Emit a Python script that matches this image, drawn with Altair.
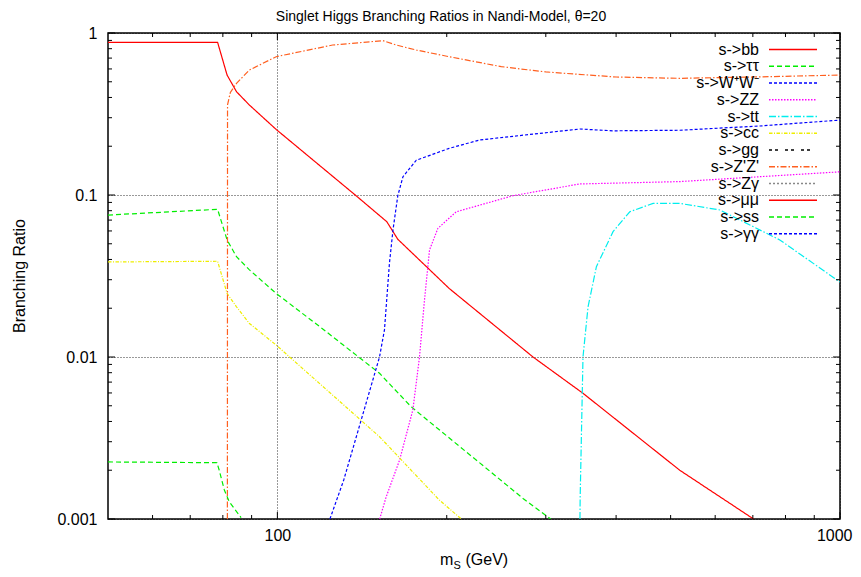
import altair as alt
import pandas as pd

# ---------------- data ----------------
series = ["bb", "tautau", "WW", "ZZ", "tt", "cc", "gg", "ZpZp", "Zgamma", "mumu", "ss", "gammagamma"]
labels = ["s->bb", "s->ττ", "s->W⁺W⁻", "s->ZZ", "s->tt", "s->cc", "s->gg", "s->Z'Z'",
          "s->Zγ", "s->μμ", "s->ss", "s->γγ"]

m_bb = [50, 78.3, 81.4, 84.6, 89.2, 99.5, 138, 156.5, 163.7, 202, 284.7, 349.3, 519, 702]
br_bb = [0.876, 0.876, 0.550, 0.434, 0.359, 0.254, 0.099, 0.0684, 0.0533, 0.0265, 0.010, 0.00597, 0.0020, 0.0010]

m_tautau = [50, 78.3, 81.4, 84.6, 89.2, 99.5, 120.4, 151.9, 172.9, 273.3, 306]
br_tautau = [0.0752, 0.0816, 0.0528, 0.0416, 0.0345, 0.0247, 0.0149, 0.00793, 0.00493, 0.00134, 0.0010]

m_WW = [124, 131.2, 151.9, 155, 158.2, 160.5, 163.7, 167.2, 176.6, 202, 228.8, 344.7, 395, 519, 720, 1000]
br_WW = [0.001, 0.00174, 0.01, 0.0147, 0.0379, 0.0608, 0.099, 0.1297, 0.164, 0.194, 0.2186, 0.2555, 0.249, 0.251, 0.2667, 0.29]

m_ZZ = [152, 156.1, 164.9, 174.1, 178.9, 182.6, 186.4, 192.9, 208, 262.2, 344.7, 519, 1000]
br_ZZ = [0.001, 0.00137, 0.00231, 0.00471, 0.01, 0.0225, 0.0458, 0.0623, 0.0788, 0.099, 0.117, 0.121, 0.139]

m_tt = [345.0, 345.3, 349.3, 356.6, 369, 395, 423, 465.4, 519, 611.7, 781.6, 1000]
br_tt = [0.001, 0.00137, 0.01, 0.0204, 0.0361, 0.0594, 0.0788, 0.0888, 0.0888, 0.0808, 0.0528, 0.029]

m_cc = [50, 78.3, 81.4, 84.6, 89.2, 99.5, 151.9, 194, 212.3]
br_cc = [0.0386, 0.039, 0.0247, 0.0204, 0.0161, 0.01186, 0.00322, 0.00131, 0.001]

m_gg = []
br_gg = []

m_ZpZp = [81.5, 81.55, 82.5, 84.6, 89.2, 99.5, 125.4, 154, 162.6, 176.6, 202, 250, 300, 400, 519, 700, 1000]
br_ZpZp = [0.001, 0.36, 0.43, 0.489, 0.591, 0.714, 0.843, 0.897, 0.843, 0.785, 0.714, 0.62, 0.575, 0.535, 0.525, 0.535, 0.55]

m_Zgamma = []
br_Zgamma = []

m_mumu = []
br_mumu = []

m_ss = [50, 78.1, 78.8, 80.5, 82.1, 86.2]
br_ss = [0.00225, 0.002226, 0.002007, 0.00151, 0.00128, 0.00102]

m_gammagamma = []
br_gammagamma = []

x_major = [100, 1000]
x_minor = [60, 70, 80, 90, 200, 300, 400, 500, 600, 700, 800, 900]
y_major = [0.001, 0.01, 0.1, 1]
y_minor = [0.002, 0.003, 0.004, 0.005, 0.006, 0.007, 0.008, 0.009,
           0.02, 0.03, 0.04, 0.05, 0.06, 0.07, 0.08, 0.09,
           0.2, 0.3, 0.4, 0.5, 0.6, 0.7, 0.8, 0.9]

title_text = "Singlet Higgs Branching Ratios in Nandi-Model, θ=20"
ytitle_text = "Branching Ratio"

# ---------------- styles ----------------
colors = ["#ff0000", "#00ee00", "#0000ff", "#ff00ff", "#00eeee", "#eeee00",
          "#000000", "#ff6020", "#888888", "#ff0000", "#00ee00", "#0000ff"]
dashes = [[1, 0], [5, 3], [3, 2], [1.5, 1.5], [7, 2, 1.5, 2], [3.5, 1.5, 1, 1.5],
          [3, 3, 3, 7], [6, 2, 1.5, 2], [2, 2], [1, 0], [5, 3], [3, 2]]

FONT = "Liberation Sans"
W, H = 732, 486

data = {
    "bb": (m_bb, br_bb), "tautau": (m_tautau, br_tautau), "WW": (m_WW, br_WW),
    "ZZ": (m_ZZ, br_ZZ), "tt": (m_tt, br_tt), "cc": (m_cc, br_cc), "gg": (m_gg, br_gg),
    "ZpZp": (m_ZpZp, br_ZpZp), "Zgamma": (m_Zgamma, br_Zgamma), "mumu": (m_mumu, br_mumu),
    "ss": (m_ss, br_ss), "gammagamma": (m_gammagamma, br_gammagamma),
}
rows = []
for s in series:
    ms, bs = data[s]
    for i, (m, b) in enumerate(zip(ms, bs)):
        rows.append({"series": s, "m": m, "br": b, "i": i})
df = pd.DataFrame(rows)

xscale = alt.Scale(type="log", domain=[50, 1000], nice=False)
yscale = alt.Scale(type="log", domain=[0.001, 1], nice=False)
xaxis = alt.Axis(values=x_major, format="d", ticks=False, domain=False, grid=True,
                 gridColor="black", gridDash=[1, 2], gridOpacity=0.8, gridWidth=1,
                 labelPadding=8, title=None, labelFlush=True, labelFlushOffset=12)
yaxis = alt.Axis(values=y_major, format="~g", ticks=False, domain=False, grid=True,
                 gridColor="black", gridDash=[1, 2], gridOpacity=0.8, gridWidth=1,
                 labelPadding=11, title=None, labelFlush=False)


def X(field):
    return alt.X(field, type="quantitative", scale=xscale, axis=xaxis)


def Y(field):
    return alt.Y(field, type="quantitative", scale=yscale, axis=yaxis)


lines = alt.Chart(df).mark_line(clip=True, strokeWidth=1.2).encode(
    x=X("m"),
    y=Y("br"),
    color=alt.Color("series:N", scale=alt.Scale(domain=series, range=colors), legend=None),
    strokeDash=alt.StrokeDash("series:N", scale=alt.Scale(domain=series, range=dashes), legend=None),
    order="i:Q",
)

layers = [lines]

# tick marks (inward, mirrored)
MAJ, MIN = 7, 4
for vals, ln in [(x_major, MAJ), (x_minor, MIN)]:
    tdf = pd.DataFrame({"m": vals})
    base = alt.Chart(tdf).mark_rule(color="black", strokeWidth=1)
    layers.append(base.encode(x=X("m"), y=alt.value(H), y2=alt.value(H - ln)))
    layers.append(base.encode(x=X("m"), y=alt.value(0), y2=alt.value(ln)))
for vals, ln in [(y_major, MAJ), (y_minor, MIN)]:
    tdf = pd.DataFrame({"br": vals})
    base = alt.Chart(tdf).mark_rule(color="black", strokeWidth=1)
    layers.append(base.encode(y=Y("br"), x=alt.value(0), x2=alt.value(ln)))
    layers.append(base.encode(y=Y("br"), x=alt.value(W), x2=alt.value(W - ln)))

# legend
for i, (lab, c, d) in enumerate(zip(labels, colors, dashes)):
    yy = 16.5 + 16.75 * i
    ldf = pd.DataFrame({"t": [lab]})
    layers.append(alt.Chart(ldf).mark_text(align="right", baseline="middle", font=FONT,
                                           fontSize=16, color="black").encode(
        text="t:N", x=alt.value(651), y=alt.value(yy)))
    layers.append(alt.Chart(ldf).mark_rule(color=c, strokeDash=d, strokeWidth=1.3).encode(
        x=alt.value(661), x2=alt.value(709), y=alt.value(yy)))

# title and axis titles as text
def text_layer(t, x, y, size, align="center", baseline="alphabetic", angle=0):
    kw = dict(align=align, baseline=baseline, font=FONT, fontSize=size, color="black")
    if angle:
        kw["angle"] = angle
    return alt.Chart(pd.DataFrame({"t": [t]})).mark_text(**kw).encode(
        text="t:N", x=alt.value(x), y=alt.value(y))

layers.append(text_layer(title_text, 333, -12, 14))
layers.append(text_layer("m", 332, 532, 16, align="left"))
layers.append(text_layer("S", 345.5, 535.5, 11, align="left"))
layers.append(text_layer("(GeV)", 357.5, 532, 16, align="left"))
layers.append(text_layer(ytitle_text, -88, H / 2, 16, baseline="middle", angle=270))

chart = alt.layer(*layers).properties(
    width=W, height=H,
    padding={"left": 100, "top": 25, "right": 13, "bottom": 50},
    autosize=alt.AutoSizeParams(type="none"),
    background="white",
).configure_view(stroke="black", strokeWidth=1.5).configure_axis(
    labelFont=FONT, labelFontSize=16, labelColor="black"
)

chart.save("out.html", embed_options={"renderer": "svg", "actions": False})
